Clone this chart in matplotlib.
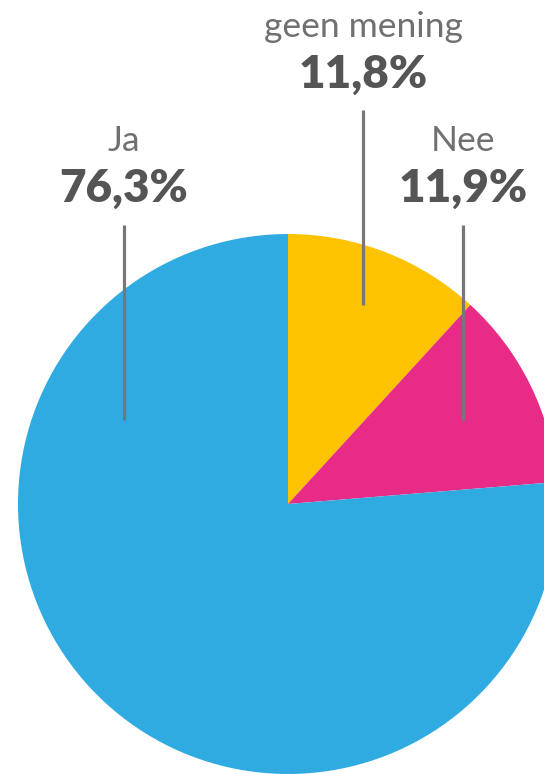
import matplotlib
matplotlib.use("Agg")
import matplotlib.pyplot as plt

labels = ["geen mening", "Nee", "Ja"]
values = [11.8, 11.9, 76.3]
value_text = ["11,8%", "11,9%", "76,3%"]
colors = ["#FDC300", "#E72B87", "#30ABE2"]

W, H = 544, 774
fig = plt.figure(figsize=(W / 100, H / 100), dpi=100)
ax = fig.add_axes([0, 0, 1, 1])

cx, cy, r = 288, H - 504, 270
ax.pie(values, colors=colors, startangle=90, counterclock=False,
       center=(cx, cy), radius=r, frame=True,
       wedgeprops=dict(linewidth=0))
ax.set_xlim(0, W)
ax.set_ylim(0, H)
ax.set_aspect("equal")
ax.axis("off")

# annotation layout: (x, label baseline, value baseline, line top, line bottom)
layout = [
    (363, 37, 88, 110, 305),
    (463, 151, 202, 225, 420),
    (124, 151, 202, 225, 420),
]
for lab, vt, (x, yl, yv, y0, y1) in zip(labels, value_text, layout):
    ax.text(x, H - yl, lab, ha="center", va="baseline", fontsize=25.5,
            family="Lato", fontweight="normal", color="#707070")
    ax.text(x, H - yv, vt, ha="center", va="baseline", fontsize=33,
            family="Lato", fontweight="heavy", color="#555555")
    ax.plot([x, x], [H - y0, H - y1], color="#777777", linewidth=2.3,
            solid_capstyle="butt")

fig.savefig("out.png", dpi=100)
